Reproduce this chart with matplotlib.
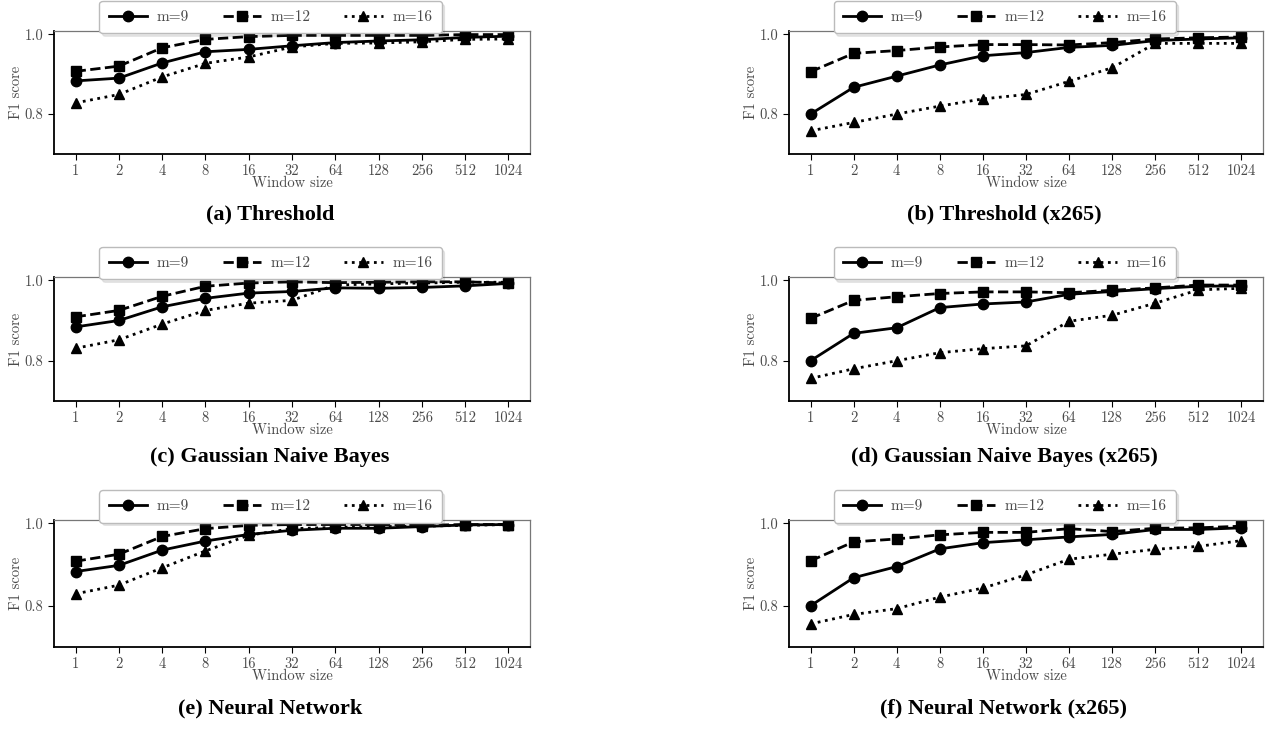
import matplotlib
matplotlib.use("Agg")
import matplotlib.pyplot as plt

# ---------------- data ----------------
window_sizes = ["1", "2", "4", "8", "16", "32", "64", "128", "256", "512", "1024"]
series_names = ["m=9", "m=12", "m=16"]

a_m9 = [0.883, 0.890, 0.928, 0.956, 0.962, 0.971, 0.979, 0.983, 0.986, 0.992, 0.995]
a_m12 = [0.907, 0.920, 0.966, 0.987, 0.994, 0.997, 0.997, 0.997, 0.997, 0.999, 0.999]
a_m16 = [0.828, 0.849, 0.893, 0.927, 0.943, 0.968, 0.977, 0.978, 0.981, 0.987, 0.988]

b_m9 = [0.800, 0.867, 0.895, 0.923, 0.946, 0.954, 0.967, 0.972, 0.984, 0.988, 0.991]
b_m12 = [0.906, 0.952, 0.959, 0.968, 0.974, 0.974, 0.973, 0.979, 0.988, 0.991, 0.993]
b_m16 = [0.758, 0.779, 0.800, 0.820, 0.838, 0.849, 0.882, 0.916, 0.977, 0.977, 0.977]

c_m9 = [0.884, 0.900, 0.934, 0.955, 0.968, 0.972, 0.981, 0.980, 0.982, 0.986, 0.992]
c_m12 = [0.909, 0.925, 0.960, 0.985, 0.993, 0.996, 0.994, 0.995, 0.996, 0.996, 0.993]
c_m16 = [0.831, 0.852, 0.891, 0.925, 0.943, 0.950, 0.988, 0.991, 0.993, 0.995, 0.995]

d_m9 = [0.800, 0.868, 0.882, 0.932, 0.941, 0.946, 0.965, 0.972, 0.979, 0.985, 0.986]
d_m12 = [0.905, 0.950, 0.959, 0.967, 0.971, 0.971, 0.969, 0.975, 0.981, 0.988, 0.988]
d_m16 = [0.756, 0.780, 0.800, 0.820, 0.830, 0.837, 0.898, 0.913, 0.943, 0.976, 0.980]

e_m9 = [0.883, 0.898, 0.935, 0.957, 0.973, 0.983, 0.988, 0.988, 0.992, 0.996, 0.997]
e_m12 = [0.908, 0.925, 0.968, 0.987, 0.995, 0.997, 0.997, 0.997, 0.995, 0.997, 0.997]
e_m16 = [0.829, 0.850, 0.892, 0.933, 0.971, 0.987, 0.990, 0.992, 0.993, 0.995, 0.997]

f_m9 = [0.800, 0.868, 0.895, 0.938, 0.953, 0.960, 0.967, 0.973, 0.985, 0.985, 0.989]
f_m12 = [0.909, 0.955, 0.962, 0.972, 0.978, 0.978, 0.987, 0.980, 0.988, 0.989, 0.993]
f_m16 = [0.756, 0.779, 0.793, 0.821, 0.843, 0.875, 0.913, 0.925, 0.937, 0.944, 0.958]

captions = ["(a) Threshold", "(b) Threshold (x265)",
            "(c) Gaussian Naive Bayes", "(d) Gaussian Naive Bayes (x265)",
            "(e) Neural Network", "(f) Neural Network (x265)"]

panels = [(a_m9, a_m12, a_m16), (b_m9, b_m12, b_m16),
          (c_m9, c_m12, c_m16), (d_m9, d_m12, d_m16),
          (e_m9, e_m12, e_m16), (f_m9, f_m12, f_m16)]

# ---------------- style ----------------
plt.rcParams["font.family"] = ["cmr10", "DejaVu Serif"]
plt.rcParams["axes.formatter.use_mathtext"] = True
plt.rcParams["mathtext.fontset"] = "cm"

W, H = 1276, 732
fig = plt.figure(figsize=(W / 100, H / 100), dpi=100)

txt_col = "#4a4a4a"
styles = [dict(ls="-", marker="o"), dict(ls="--", marker="s"), dict(ls=":", marker="^")]

# axes boxes in pixel coords
col_x = [(54, 530), (789, 1263)]
row_y = [(31, 154), (277, 401), (520, 647)]
xlabel_y = [183, 430, 676]
caption_y = [214, 457, 708]
caption_x = [270, 1004]

x = list(range(len(window_sizes)))
for i, (s9, s12, s16) in enumerate(panels):
    r, c = divmod(i, 2)
    l, rr = col_x[c]
    t, b = row_y[r]
    ax = fig.add_axes([l / W, 1 - b / H, (rr - l) / W, (b - t) / H])
    for vals, st, name in zip((s9, s12, s16), styles, series_names):
        ax.plot(x, vals, color="black", lw=2.0, ms=7.5, label=name, **st)
    ax.set_xlim(-0.5, len(window_sizes) - 0.5)
    ax.set_ylim(0.70, 1.008)
    ax.set_yticks([0.8, 1.0])
    ax.set_yticklabels(["0.8", "1.0"])
    ax.set_xticks(x)
    ax.set_xticklabels(window_sizes)
    ax.tick_params(labelsize=10.5, labelcolor=txt_col, length=4, width=0.8, color="black")
    for sp in ("left", "bottom"):
        ax.spines[sp].set_color("black")
        ax.spines[sp].set_linewidth(1.3)
    for sp in ("top", "right"):
        ax.spines[sp].set_color("#777777")
        ax.spines[sp].set_linewidth(0.9)
    ax.set_ylabel("F1 score", fontsize=10.5, color=txt_col, labelpad=1)
    leg = ax.legend(ncol=3, loc="lower center", bbox_to_anchor=(0.455, 0.98),
                    borderaxespad=0, fontsize=11, frameon=True, fancybox=True,
                    shadow={"alpha": 0.12}, handlelength=2.5, columnspacing=2.2,
                    handletextpad=0.65, borderpad=0.6, edgecolor="#bbbbbb",
                    framealpha=1.0)
    for tx in leg.get_texts():
        tx.set_color(txt_col)
    leg.set_zorder(10)
    cx = (l + rr) / 2
    fig.text(cx / W, 1 - xlabel_y[r] / H, "Window size", ha="center", va="center",
             fontsize=10.5, color=txt_col)
    fig.text(caption_x[c] / W, 1 - caption_y[r] / H, captions[i], ha="center",
             va="center", fontsize=16, fontweight="bold", color="black",
             family=["Liberation Serif", "DejaVu Serif"])

fig.savefig("out.png", dpi=100)
